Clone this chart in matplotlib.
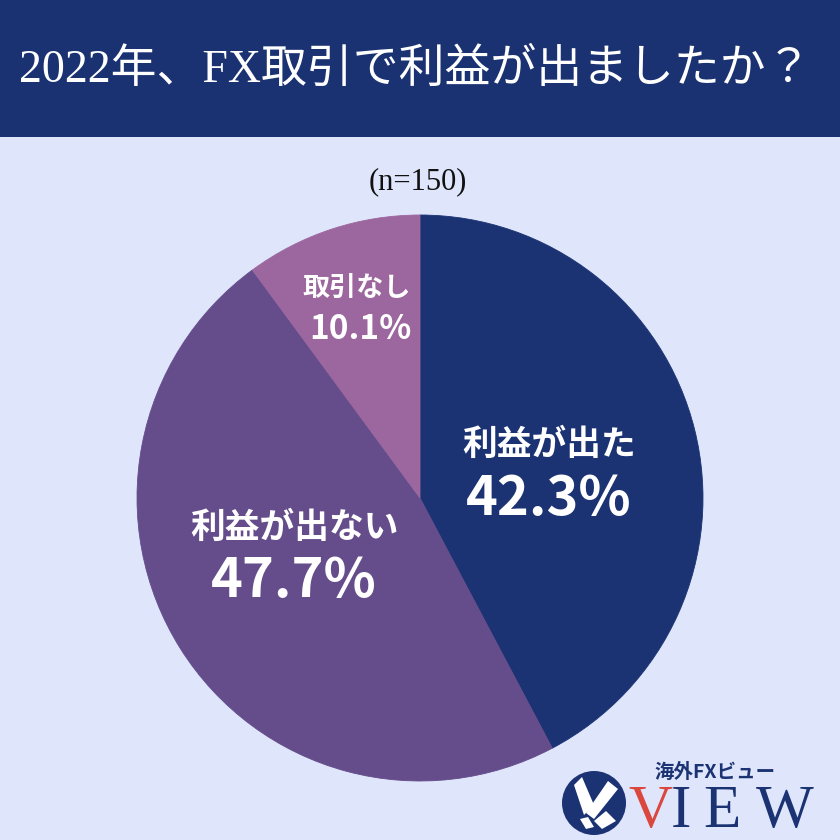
import matplotlib.pyplot as plt
from matplotlib.patches import Rectangle, Circle, Polygon

# data
labels = ["利益が出た", "利益が出ない", "取引なし"]
shares = [42.3, 47.7, 10.1]
colors = ["#1b3373", "#654c8b", "#9c679e"]
title = "2022年、FX取引で利益が出ましたか？"
sample = "(n=150)"

W = H = 840.0


def px(x, y):
    """pixel (top-left origin) -> figure fraction"""
    return x / W, 1 - y / H


fig = plt.figure(figsize=(8.4, 8.4), dpi=100)
fig.patch.set_facecolor("#dfe6fc")

# header band
fig.patches.append(Rectangle((0, 1 - 137 / H), 1, 137 / H, transform=fig.transFigure,
                             facecolor="#1a3272", edgecolor="none", zorder=0))
fig.text(*px(415, 70), title, color="white", fontsize=33, ha="center", va="center",
         family=["Liberation Serif", "Noto Sans CJK JP"])
fig.text(*px(418, 182), sample, color="#111111", fontsize=22, ha="center", va="center",
         family=["Liberation Serif", "Noto Sans CJK JP"])

# pie
cx, cy, r = 420, 498, 283
ax = fig.add_axes([(cx - r) / W, 1 - (cy + r) / H, 2 * r / W, 2 * r / H])
wedges, _ = ax.pie(shares, colors=colors, startangle=90, counterclock=False, radius=1,
                   wedgeprops=dict(linewidth=0.6))
for w, c in zip(wedges, colors):
    w.set_edgecolor(c)
ax.set_xlim(-1, 1)
ax.set_ylim(-1, 1)
ax.axis("off")

jp = ["Noto Sans CJK JP", "DejaVu Sans"]
label_pos = [(549, 444), (295, 527), (357, 288)]
value_pos = [(549, 500), (294, 582), (360, 330)]
name_size = [25, 25, 19.5]
value_size = [39, 39, 24]
for i in range(len(labels)):
    fig.text(*px(*label_pos[i]), labels[i], color="white", fontsize=name_size[i],
             fontweight="bold", ha="center", va="center", family=jp)
    fig.text(*px(*value_pos[i]), f"{shares[i]:.1f}%", color="white", fontsize=value_size[i],
             fontweight="bold", ha="center", va="center", family=jp)

# logo
icon = fig.add_axes([560 / W, 1 - 837 / H, 68 / W, 68 / H])
icon.set_xlim(0, 68)
icon.set_ylim(68, 0)
icon.set_aspect("equal")
icon.axis("off")
icon.add_patch(Circle((34, 34), 32, facecolor="#1b3373", edgecolor="none"))
icon.add_patch(Polygon([(14, 16), (22, 8), (34, 36), (24, 46)], facecolor="white", edgecolor="none"))
icon.add_patch(Polygon([(26, 44), (48, 12), (58, 20), (34, 50)], facecolor="white", edgecolor="none"))
icon.add_patch(Polygon([(34, 52), (46, 42), (56, 52), (42, 60)], facecolor="white", edgecolor="none"))
icon.add_patch(Polygon([(20, 50), (28, 48), (34, 58), (26, 60)], facecolor="white", edgecolor="none"))
fig.text(*px(715, 772), "海外FXビュー", color="#1b3373", fontsize=14, fontweight="bold",
         ha="center", va="center", family=["Noto Sans CJK JP"])
logo_letters = ["V", "I", "E", "W"]
logo_x = [650, 681, 722, 785]
logo_c = ["#d9473f", "#1b3373", "#1b3373", "#1b3373"]
for ch, x, c in zip(logo_letters, logo_x, logo_c):
    fig.text(*px(x, 812), ch, color=c, fontsize=44, ha="center", va="center",
             family="Liberation Serif")

plt.savefig("out.png", dpi=100, facecolor=fig.get_facecolor())
